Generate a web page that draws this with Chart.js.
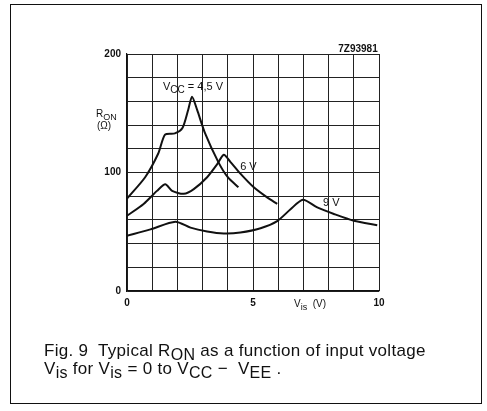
<!DOCTYPE html>
<html>
<head>
<meta charset="utf-8">
<script src="https://cdn.jsdelivr.net/npm/chart.js@4/dist/chart.umd.min.js"></script>
<style>
  body { margin: 0; background: #fff; }
  #wrap { position: relative; width: 487px; height: 411px; overflow: hidden; }
  #frame { position: absolute; left: 10px; top: 4px; width: 472px; height: 400px; border: 1.5px solid #111; box-sizing: border-box; }
  #caption { position: absolute; left: 44px; top: 342px; font: 17px "Liberation Sans", Arial, sans-serif; letter-spacing: 0.3px; color: #111; line-height: 18px; white-space: nowrap; }
  #caption sub { font-size: 16px; vertical-align: -4px; line-height: 0; }
  canvas { position: absolute; left: 0; top: 0; }
</style>
</head>
<body>
<div id="wrap">
  <div id="frame"></div>
  <canvas id="chart" width="487" height="411"></canvas>
  <div id="caption">Fig. 9&nbsp; Typical R<sub>ON</sub> as a function of input voltage<br>V<sub>is</sub> for V<sub>is</sub> = 0 to V<sub>CC</sub> &minus;&nbsp; V<sub>EE</sub> .</div>
</div>
<script>
// R_ON (ohm) vs V_is (V)
const vcc45_x = [0, 0.72, 1.24, 1.51, 1.9, 2.2, 2.43, 2.58, 2.78, 3.1, 3.62, 4.0, 4.42];
const vcc45_y = [78, 96, 116, 132, 133, 137.5, 153, 164, 153, 133, 109, 96, 87.5];

const vcc6_x = [0, 0.66, 1.19, 1.52, 1.79, 2.25, 2.65, 3.18, 3.58, 3.84, 4.1, 4.5, 5.03, 5.56, 5.96];
const vcc6_y = [63.5, 73.5, 84.5, 90, 84.5, 82, 86, 96, 107, 115, 109, 99, 87.5, 79, 73.5];

const vcc9_x = [0, 0.93, 1.92, 2.52, 3.18, 3.84, 4.5, 5.3, 5.96, 6.49, 6.98, 7.55, 8.21, 9.0, 9.93];
const vcc9_y = [46.5, 52, 58.5, 53.5, 50.3, 48.6, 49.4, 53, 59, 69, 77, 70.5, 65, 59.3, 55.5];

const xTicks = [0, 5, 10];
const yTicks = [0, 100, 200];

const FONT = '"Liberation Sans", Arial, sans-serif';

function pts(xs, ys) { return xs.map((x, i) => ({ x: x, y: ys[i] })); }

function curve(xs, ys) {
  return {
    data: pts(xs, ys),
    borderColor: "#111",
    borderWidth: 2,
    pointRadius: 0,
    tension: 0.25,
    fill: false,
  };
}

// draws "main" + subscript + rest, left aligned at x, baseline y
function subText(ctx, x, y, parts, size) {
  let cx = x;
  parts.forEach(p => {
    ctx.font = (p.sub ? size - 1 : size) + "px " + FONT;
    ctx.fillText(p.t, cx, p.sub ? y + 3 : y);
    cx += ctx.measureText(p.t).width;
  });
}

const labels = {
  id: "labels",
  afterDraw(chart) {
    const ctx = chart.ctx;
    const xs = chart.scales.x, ys = chart.scales.y;
    ctx.save();
    ctx.fillStyle = "#111";
    ctx.textAlign = "left";
    ctx.textBaseline = "alphabetic";
    subText(ctx, xs.getPixelForValue(1.43), ys.getPixelForValue(170),
      [{ t: "V" }, { t: "CC", sub: true }, { t: " = 4,5 V" }], 11);
    subText(ctx, xs.getPixelForValue(4.49), ys.getPixelForValue(102), [{ t: "6 V" }], 11);
    subText(ctx, xs.getPixelForValue(7.78), ys.getPixelForValue(72), [{ t: "9 V" }], 11);
    // axis titles
    subText(ctx, 96, 117, [{ t: "R" }, { t: "ON", sub: true }], 10);
    ctx.font = "10px " + FONT;
    ctx.fillText("(\u03A9)", 97, 129);
    subText(ctx, 294, 307, [{ t: "V" }, { t: "is", sub: true }, { t: "  (V)" }], 10);
    ctx.font = "bold 10px " + FONT;
    ctx.textAlign = "right";
    ctx.fillText("7Z93981", xs.getPixelForValue(9.95), ys.getPixelForValue(202));
    ctx.restore();
  }
};

new Chart(document.getElementById("chart").getContext("2d"), {
  type: "line",
  data: {
    datasets: [curve(vcc45_x, vcc45_y), curve(vcc6_x, vcc6_y), curve(vcc9_x, vcc9_y)],
  },
  options: {
    responsive: false,
    animation: false,
    layout: { padding: { left: 0, top: 54, right: 108, bottom: 100 } },
    plugins: { legend: { display: false }, tooltip: { enabled: false } },
    scales: {
      x: {
        type: "linear",
        min: 0,
        max: 10,
        afterFit(s) { s.height = 20; },
        grid: { color: "#222", lineWidth: 1, drawTicks: false },
        border: { color: "#111", width: 1.2 },
        ticks: {
          stepSize: 1,
          padding: 6,
          color: "#111",
          font: { family: FONT, size: 10, weight: "bold" },
          maxRotation: 0,
          callback: v => (xTicks.includes(v) ? String(v) : ""),
        },
      },
      y: {
        min: 0,
        max: 200,
        afterFit(s) { s.width = 127; },
        grid: { color: "#222", lineWidth: 1, drawTicks: false },
        border: { color: "#111", width: 1.2 },
        ticks: {
          stepSize: 20,
          padding: 6,
          color: "#111",
          font: { family: FONT, size: 10, weight: "bold" },
          callback: v => (yTicks.includes(v) ? String(v) : ""),
        },
      },
    },
  },
  plugins: [labels],
});
</script>
</body>
</html>
